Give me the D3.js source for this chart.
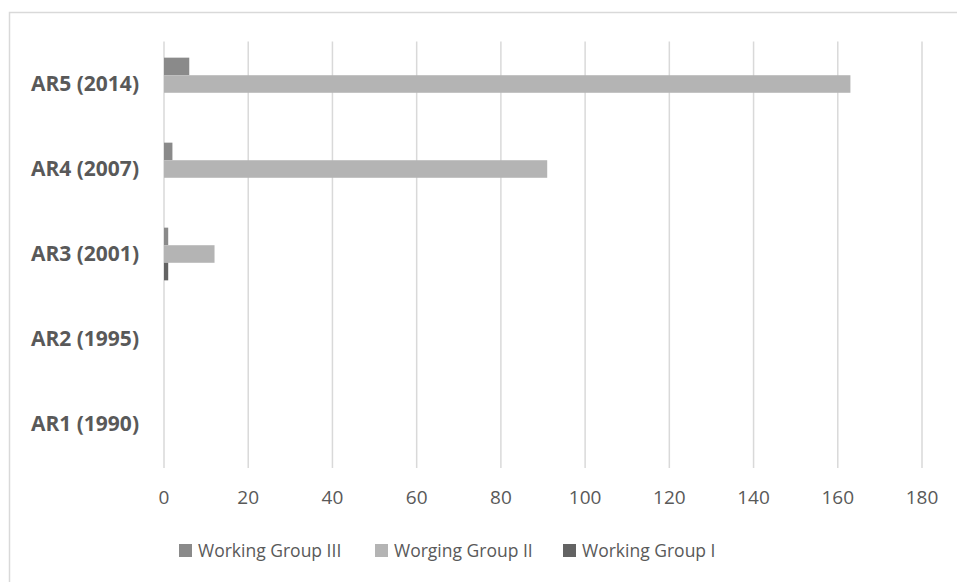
<!DOCTYPE html>
<html>
<head>
<meta charset="utf-8">
<script src="https://cdn.jsdelivr.net/npm/d3@7"></script>
<style>
  body { margin: 0; background: #fff; }
  text { font-family: "Open Sans", "Noto Sans", sans-serif; fill: #595959; }
</style>
</head>
<body>
<div id="viz"></div>
<script>
var categories = ["AR5 (2014)", "AR4 (2007)", "AR3 (2001)", "AR2 (1995)", "AR1 (1990)"];
var series = ["Working Group III", "Worging Group II", "Working Group I"];
var wg3 = [6, 2, 1, 0, 0];
var wg2 = [163, 91, 12, 0, 0];
var wg1 = [0, 0, 1, 0, 0];
var ticks = [0, 20, 40, 60, 80, 100, 120, 140, 160, 180];

var width = 957, height = 582;
var svg = d3.select("#viz").append("svg").attr("width", width).attr("height", height);

var color = d3.scaleOrdinal().domain(series).range(["#8a8a8a", "#b4b4b4", "#636363"]);

// chart area border (runs off right and bottom)
svg.append("rect")
    .attr("x", 9.5).attr("y", 12.5)
    .attr("width", 1000).attr("height", 1000)
    .attr("fill", "none")
    .attr("stroke", "#d9d9d9")
    .attr("stroke-width", 1.5);

var x = d3.scaleLinear().domain([0, 180]).range([164, 922]);
var y = d3.scaleBand().domain(categories).range([41.5, 466.5]).paddingInner(0.38).paddingOuter(0.19);
var ySub = d3.scaleBand().domain(series).range([0, y.bandwidth()]);

// gridlines
svg.append("g").selectAll("line")
    .data(ticks)
    .enter().append("line")
    .attr("x1", function(d) { return x(d); })
    .attr("x2", function(d) { return x(d); })
    .attr("y1", 41.5)
    .attr("y2", 468)
    .attr("stroke", "#d9d9d9")
    .attr("stroke-width", 1.5);

var rows = series.map(function(s, i) {
  var vals = [wg3, wg2, wg1][i];
  return categories.map(function(c, j) { return { cat: c, s: s, v: vals[j] }; });
});

svg.append("g").selectAll("g")
    .data(rows)
    .enter().append("g")
    .attr("fill", function(d) { return color(d[0].s); })
  .selectAll("rect")
    .data(function(d) { return d; })
    .enter().append("rect")
    .attr("x", x(0))
    .attr("y", function(d) { return y(d.cat) + ySub(d.s); })
    .attr("width", function(d) { return x(d.v) - x(0); })
    .attr("height", ySub.bandwidth());

// category labels
svg.append("g").selectAll("text")
    .data(categories)
    .enter().append("text")
    .attr("x", 139)
    .attr("y", function(d) { return y(d) + y.bandwidth() / 2; })
    .attr("dy", "0.35em")
    .attr("text-anchor", "end")
    .style("font-size", "21px")
    .style("font-weight", "bold")
    .text(function(d) { return d; });

// x tick labels
svg.append("g").selectAll("text")
    .data(ticks)
    .enter().append("text")
    .attr("x", function(d) { return x(d); })
    .attr("y", 497)
    .attr("dy", "0.35em")
    .attr("text-anchor", "middle")
    .style("font-size", "19px")
    .text(function(d) { return d; });

// legend
var legendX = [179, 375, 563];
var legend = svg.append("g").selectAll("g")
    .data(series)
    .enter().append("g")
    .attr("transform", function(d, i) { return "translate(" + legendX[i] + ",544)"; });

legend.append("rect")
    .attr("width", 13).attr("height", 13)
    .attr("fill", function(d) { return color(d); });

legend.append("text")
    .attr("x", 19)
    .attr("y", 7)
    .attr("dy", "0.35em")
    .style("font-size", "17.5px")
    .text(function(d) { return d; });
</script>
</body>
</html>
